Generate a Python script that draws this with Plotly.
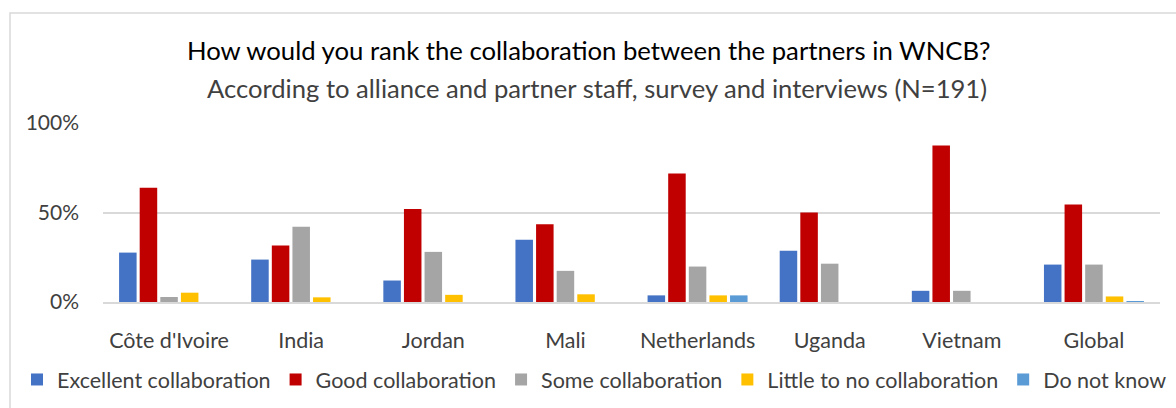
import plotly.graph_objects as go

# Survey responses by country (% of respondents)
countries = ["Côte d'Ivoire", "India", "Jordan", "Mali", "Netherlands", "Uganda", "Vietnam", "Global"]
excellent = [27.6, 23.7, 12.0, 34.8, 3.7, 28.6, 6.25, 20.9]
good = [63.8, 31.6, 52.0, 43.5, 71.8, 50.0, 87.5, 54.5]
some = [2.8, 42.1, 28.0, 17.4, 19.8, 21.4, 6.25, 20.9]
little = [5.2, 2.6, 4.0, 4.3, 3.7, 0, 0, 3.1]
dont_know = [0, 0, 0, 0, 3.7, 0, 0, 0.5]

y_ticks = [0, 50, 100]
y_tick_labels = ["0%", "50%", "100%"]

series = [
    ("Excellent collaboration", excellent, "#4472C4"),
    ("Good collaboration", good, "#C00000"),
    ("Some collaboration", some, "#A5A5A5"),
    ("Little to no collaboration", little, "#FFC000"),
    ("Do not know", dont_know, "#5B9BD5"),
]

FONT = "Lato"
W, H = 1176, 408
L, R, T, B = 103, 16, 123, 106
pw, ph = W - L - R, H - T - B

fig = go.Figure()
for name, vals, color in series:
    fig.add_trace(go.Bar(
        x=countries, y=vals, name=name,
        marker=dict(color=color, line=dict(width=0)),
        hovertemplate="%{x}: %{y:.1f}%<extra>" + name + "</extra>",
    ))

fig.update_layout(
    width=W, height=H,
    margin=dict(l=L, r=R, t=T, b=B, pad=0, autoexpand=False),
    paper_bgcolor="white", plot_bgcolor="white",
    barmode="group", bargap=0.22, bargroupgap=0.15,
    font=dict(family=FONT, color="#404040", size=21),
    showlegend=True,
    legend=dict(
        orientation="h", xref="paper", yref="paper",
        x=(17 - L) / pw, xanchor="left",
        y=-(359 - (H - B)) / ph, yanchor="top",
        font=dict(size=21.5, color="#404040"),
        itemwidth=30, traceorder="normal",
    ),
    xaxis=dict(
        automargin=False,
        showgrid=False, showline=True, linecolor="#d9d9d9", linewidth=1.5,
        ticks="", ticklabelstandoff=18, tickfont=dict(size=21.5, color="#404040"),
    ),
    yaxis=dict(
        automargin=False,
        range=[0, 100], tickmode="array", tickvals=y_ticks, ticktext=y_tick_labels,
        showgrid=True, gridcolor="#d9d9d9", gridwidth=1.5,
        zeroline=False, showline=False, ticks="",
        ticklabelstandoff=23, tickfont=dict(size=21, color="#404040"),
    ),
    annotations=[
        dict(text="How would you rank the collaboration between the partners in WNCB?",
             xref="paper", yref="paper", x=(589 - L) / pw, y=1 + (T - 50) / ph,
             xanchor="center", yanchor="middle", showarrow=False,
             font=dict(family=FONT, size=25.7, color="#000000")),
        dict(text="According to alliance and partner staff, survey and interviews (N=191)",
             xref="paper", yref="paper", x=(597 - L) / pw, y=1 + (T - 88) / ph,
             xanchor="center", yanchor="middle", showarrow=False,
             font=dict(family=FONT, size=25.6, color="#404040")),
    ],
    shapes=[
        dict(type="rect", xref="paper", yref="paper",
             x0=(10 - L) / pw, x1=1.2, y0=-1.0, y1=1 + (T - 13) / ph,
             line=dict(color="#d9d9d9", width=1.5), fillcolor="rgba(0,0,0,0)",
             layer="below"),
    ],
)

fig.write_html("out.html")
